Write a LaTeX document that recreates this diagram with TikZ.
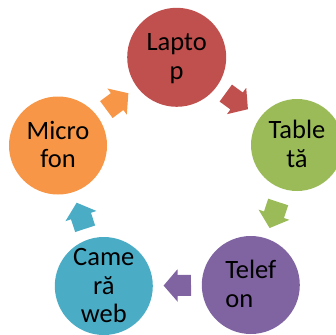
\documentclass[tikz,border=0pt]{standalone}
\usepackage{fontspec}
\setmainfont{Carlito}
\usetikzlibrary{calc}
\definecolor{cred}{HTML}{C0504D}
\definecolor{cgreen}{HTML}{9BBB59}
\definecolor{cpurple}{HTML}{8064A2}
\definecolor{caqua}{HTML}{4BACC6}
\definecolor{corange}{HTML}{F79646}
\tikzset{
  circ/.style={circle, draw=none, inner sep=0pt},
  txt/.style={font=\fontsize{26.5}{28.5}\selectfont, align=center, inner sep=0pt, text=black},
}
\newcommand\mst{\rule[-4pt]{0pt}{24pt}}
\newcommand\blockarr[3]{\fill[#3] let \p1=(#1.center), \p2=(#2.center), \n1={atan2(\y2-\y1,\x2-\x1)} in [shift={($(\p1)!0.5!(\p2)$)}, rotate=\n1] (-13.7,-10.5) -- (-0.3,-10.5) -- (-0.3,-16.3) -- (13.7,0) -- (-0.3,16.3) -- (-0.3,10.5) -- (-13.7,10.5) -- cycle;}
\begin{document}
\begin{tikzpicture}[x=1pt,y=-1pt]
\useasboundingbox (0,0) rectangle (336,334);
\node[circ, fill=cred, minimum size=99pt] (lap) at (176.7,57.3) {};
\node[circ, fill=cgreen, minimum size=92pt] (tab) at (297,145) {};
\node[circ, fill=cpurple, minimum size=98pt] (tel) at (250.8,285) {};
\node[circ, fill=caqua, minimum size=98pt] (cam) at (103.8,286) {};
\node[circ, fill=corange, minimum size=98pt] (mic) at (58,145.5) {};
\node[txt] (lapt) at (lap) {\mst Lapto\\\mst p};
\node[txt] (tabt) at (tab) {\mst Table\\\mst tă};
\node[txt, align=left] (telt) at (tel) {\mst Telef\\\mst on};
\node[txt] (camt) at (cam) {\mst Came\\\mst ră\\\mst web};
\node[txt] (mict) at (mic) {\mst Micro\\\mst fon};
\blockarr{lap}{tab}{cred}
\blockarr{tab}{tel}{cgreen}
\blockarr{tel}{cam}{cpurple}
\blockarr{cam}{mic}{caqua}
\blockarr{mic}{lap}{corange}
\end{tikzpicture}
\end{document}
